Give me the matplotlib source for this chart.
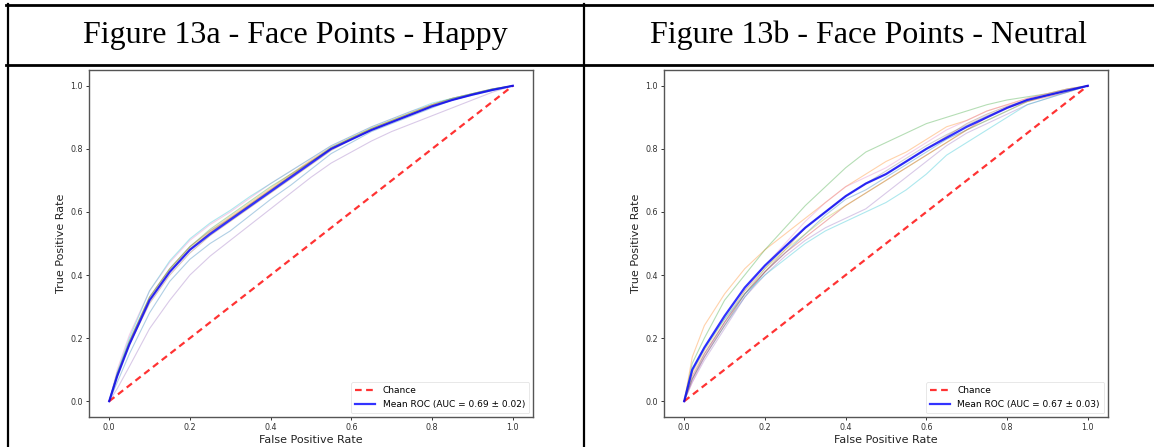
import matplotlib
matplotlib.use("Agg")
import matplotlib.pyplot as plt
from matplotlib.lines import Line2D

# ---------------- data ----------------
fpr_grid = [0, 0.02, 0.05, 0.1, 0.15, 0.2, 0.25, 0.3, 0.35, 0.4, 0.45,
            0.5, 0.55, 0.6, 0.65, 0.7, 0.75, 0.8, 0.85, 0.9, 0.95, 1.0]

titles = ["Figure 13a - Face Points - Happy", "Figure 13b - Face Points - Neutral"]
auc_labels = ["Mean ROC (AUC = 0.69 \u00b1 0.02)", "Mean ROC (AUC = 0.67 \u00b1 0.03)"]

mean_a = [0, .08, .18, .32, .41, .48, .53, .575, .62, .665, .71, .755, .80, .83, .86, .885, .91, .935, .955, .972, .987, 1]
folds_a = [
    [0, .06, .15, .28, .38, .45, .50, .54, .59, .64, .685, .735, .785, .82, .855, .88, .905, .93, .955, .97, .985, 1],
    [0, .08, .19, .33, .42, .49, .54, .585, .63, .675, .72, .765, .805, .835, .865, .89, .915, .94, .96, .975, .99, 1],
    [0, .09, .19, .33, .42, .49, .545, .59, .635, .68, .72, .76, .805, .835, .865, .89, .915, .94, .96, .975, .99, 1],
    [0, .08, .18, .32, .41, .48, .535, .58, .625, .67, .715, .76, .80, .83, .86, .885, .91, .935, .955, .972, .987, 1],
    [0, .04, .11, .23, .32, .40, .46, .51, .56, .61, .66, .71, .755, .79, .825, .855, .88, .905, .93, .955, .98, 1],
    [0, .08, .18, .31, .40, .47, .525, .57, .615, .66, .705, .75, .795, .83, .86, .885, .91, .935, .955, .972, .987, 1],
    [0, .10, .21, .35, .44, .51, .56, .60, .645, .69, .73, .77, .81, .84, .87, .895, .92, .94, .96, .975, .99, 1],
    [0, .09, .19, .33, .42, .49, .54, .58, .625, .67, .715, .76, .80, .83, .86, .885, .91, .935, .955, .972, .987, 1],
    [0, .08, .18, .32, .415, .485, .535, .58, .625, .67, .715, .76, .80, .835, .865, .89, .915, .94, .96, .975, .99, 1],
    [0, .09, .20, .35, .445, .515, .565, .605, .65, .69, .73, .77, .81, .84, .87, .895, .92, .945, .96, .975, .99, 1],
]

mean_b = [0, .10, .17, .27, .36, .43, .49, .55, .60, .65, .69, .72, .76, .80, .835, .87, .90, .93, .955, .97, .985, 1]
folds_b = [
    [0, .07, .14, .24, .33, .41, .47, .53, .59, .64, .67, .71, .75, .79, .83, .86, .89, .92, .95, .97, .985, 1],
    [0, .14, .24, .34, .42, .48, .53, .58, .63, .68, .72, .76, .79, .83, .87, .89, .92, .94, .96, .975, .99, 1],
    [0, .12, .20, .32, .40, .48, .55, .62, .68, .74, .79, .82, .85, .88, .90, .92, .94, .955, .965, .975, .99, 1],
    [0, .08, .15, .25, .34, .41, .47, .52, .57, .62, .66, .70, .74, .78, .82, .86, .90, .93, .95, .965, .98, 1],
    [0, .06, .13, .23, .33, .40, .46, .51, .55, .58, .61, .66, .71, .76, .81, .85, .88, .91, .94, .96, .98, 1],
    [0, .07, .14, .24, .34, .41, .48, .55, .60, .65, .69, .72, .76, .80, .84, .88, .91, .935, .955, .97, .985, 1],
    [0, .06, .14, .25, .35, .43, .50, .57, .63, .68, .71, .74, .78, .82, .86, .89, .92, .94, .96, .975, .99, 1],
    [0, .07, .15, .25, .34, .42, .49, .55, .60, .65, .69, .73, .77, .81, .845, .875, .905, .93, .955, .97, .985, 1],
    [0, .09, .16, .26, .35, .42, .48, .53, .58, .62, .66, .70, .74, .78, .82, .86, .89, .92, .95, .97, .985, 1],
    [0, .10, .17, .26, .34, .40, .45, .50, .54, .57, .60, .63, .67, .72, .78, .82, .86, .90, .94, .96, .98, 1],
]

ticks = [0.0, 0.2, 0.4, 0.6, 0.8, 1.0]
fold_colors = ['tab:blue', 'tab:orange', 'tab:green', 'tab:red', 'tab:purple',
               'tab:brown', 'tab:pink', 'tab:gray', 'tab:olive', 'tab:cyan']

# ---------------- figure ----------------
W, H = 1154, 447
fig = plt.figure(figsize=(W / 100, H / 100), dpi=100)
fig.patch.set_facecolor('white')

def px_rect(x0, y0, x1, y1):
    return [x0 / W, 1 - y1 / H, (x1 - x0) / W, (y1 - y0) / H]

axes_boxes = [px_rect(89, 70, 533, 417), px_rect(664, 70, 1108, 417)]
panels = [(mean_a, folds_a), (mean_b, folds_b)]

for i, (box, (mean, folds)) in enumerate(zip(axes_boxes, panels)):
    ax = fig.add_axes(box)
    for f, c in zip(folds, fold_colors):
        ax.plot(fpr_grid, f, color=c, lw=0.8, alpha=0.35)
    ax.plot([0, 1], [0, 1], linestyle='--', lw=1.6, color='red', alpha=0.8,
            label='Chance', dashes=(3, 2))
    ax.plot(fpr_grid, mean, color='blue', lw=1.6, alpha=0.8, label=auc_labels[i])
    ax.set_xlim(-0.05, 1.05)
    ax.set_ylim(-0.05, 1.05)
    ax.set_xticks(ticks)
    ax.set_yticks(ticks)
    ax.set_xticklabels([f"{t:.1f}" for t in ticks])
    ax.set_yticklabels([f"{t:.1f}" for t in ticks])
    ax.tick_params(labelsize=5.8, length=2.5, width=0.7, colors='#333333', pad=2)
    for s in ax.spines.values():
        s.set_color('#555555')
        s.set_linewidth(1.0)
    ax.set_xlabel('False Positive Rate', fontsize=8, labelpad=2, color='#222222')
    ax.set_ylabel('True Positive Rate', fontsize=8, labelpad=3, color='#222222')
    leg = ax.legend(loc='lower right', fontsize=6.5, frameon=True,
                    handlelength=2.2, borderpad=0.5, labelspacing=0.5,
                    borderaxespad=0.4)
    leg.get_frame().set_edgecolor('#dddddd')
    leg.get_frame().set_linewidth(0.6)

# header texts
fig.text(295 / W, 1 - 35 / H, titles[0], ha='center', va='center',
         fontsize=23, family='Liberation Serif')
fig.text(869 / W, 1 - 35 / H, titles[1], ha='center', va='center',
         fontsize=23, family='Liberation Serif')

# table borders
def hline(y, x0, x1, lw):
    fig.add_artist(Line2D([x0 / W, x1 / W], [1 - y / H, 1 - y / H],
                          transform=fig.transFigure, color='black', lw=lw))

def vline(x, y0, y1, lw):
    fig.add_artist(Line2D([x / W, x / W], [1 - y0 / H, 1 - y1 / H],
                          transform=fig.transFigure, color='black', lw=lw))

hline(5, 6, W, 2.0)
hline(64.5, 6, W, 2.0)
vline(7.5, 4, H, 1.6)
vline(583.5, 4, H, 1.6)

fig.savefig('out.png', dpi=100, facecolor='white')
